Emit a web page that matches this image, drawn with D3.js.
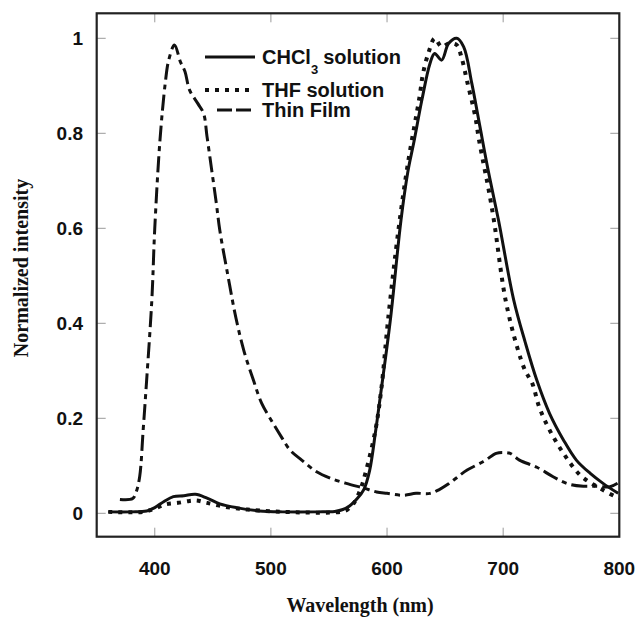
<!DOCTYPE html>
<html>
<head>
<meta charset="utf-8">
<script src="https://cdn.jsdelivr.net/npm/d3@7"></script>
<style>
  body { margin: 0; background: #fff; }
  .tick-lbl { font-family: "Liberation Sans", Arial, sans-serif; font-weight: bold; font-size: 19px; fill: #111; }
  .ttl { font-family: "Liberation Serif", "Times New Roman", serif; font-weight: bold; font-size: 20px; fill: #111; }
  .leg { font-family: "Liberation Sans", Arial, sans-serif; font-weight: bold; font-size: 20px; fill: #111; }
</style>
</head>
<body>
<script>
// values
var chclWl  = [360, 380, 393, 400, 408, 416, 425, 435, 445, 456, 470, 490, 510, 540, 555, 562, 568, 574, 580, 585, 590, 595, 603, 612, 618, 623, 630, 637, 641, 647, 653, 660, 666, 673, 680, 687, 696, 709, 719, 729, 740, 752, 763, 775, 786, 799];
var chclInt = [0.003, 0.003, 0.005, 0.012, 0.025, 0.035, 0.037, 0.04, 0.032, 0.02, 0.012, 0.005, 0.003, 0.003, 0.004, 0.008, 0.016, 0.03, 0.05, 0.09, 0.17, 0.26, 0.41, 0.617, 0.72, 0.78, 0.87, 0.947, 0.968, 0.954, 0.989, 1.0, 0.982, 0.905, 0.814, 0.723, 0.617, 0.45, 0.36, 0.28, 0.21, 0.154, 0.112, 0.084, 0.063, 0.042];

var thfWl  = [360, 390, 398, 405, 410, 420, 430, 436, 445, 460, 475, 490, 510, 560, 566, 571, 577, 582, 590, 595, 601, 610, 618, 628, 631, 636, 641, 647, 653, 660, 664, 669, 676, 679, 683, 687, 692, 702, 712, 719, 725, 731, 740, 752, 766, 778, 786, 796, 800];
var thfInt = [0.003, 0.003, 0.008, 0.015, 0.019, 0.022, 0.026, 0.027, 0.022, 0.014, 0.009, 0.006, 0.003, 0.003, 0.008, 0.02, 0.05, 0.09, 0.175, 0.26, 0.41, 0.6, 0.737, 0.877, 0.926, 0.972, 1.0, 0.982, 0.989, 0.986, 0.961, 0.909, 0.835, 0.789, 0.737, 0.688, 0.617, 0.45, 0.35, 0.3, 0.274, 0.224, 0.175, 0.126, 0.081, 0.06, 0.049, 0.036, 0.032];

var filmWl  = [370, 381, 384, 387, 390, 393, 397.5, 400, 404.5, 409, 412, 417, 422, 426, 430, 437, 442, 445, 449, 453, 456, 463, 470, 477, 485, 492, 502, 509, 516.5, 526.5, 539, 551, 565, 580, 591, 600, 614, 625, 637, 645, 653, 660, 669, 683, 694, 700, 706, 714, 729, 743, 756, 769, 780, 792, 799];
var filmInt = [0.029, 0.031, 0.045, 0.077, 0.175, 0.28, 0.45, 0.6, 0.786, 0.905, 0.954, 0.986, 0.951, 0.93, 0.891, 0.863, 0.842, 0.793, 0.723, 0.653, 0.596, 0.5, 0.41, 0.34, 0.28, 0.232, 0.189, 0.161, 0.133, 0.112, 0.088, 0.074, 0.063, 0.053, 0.045, 0.042, 0.038, 0.042, 0.042, 0.05, 0.062, 0.075, 0.091, 0.109, 0.126, 0.128, 0.126, 0.112, 0.097, 0.077, 0.062, 0.057, 0.057, 0.056, 0.064];

var xTicks = [400, 500, 600, 700, 800];
var yTicks = [0, 0.2, 0.4, 0.6, 0.8, 1];
var yTickLabels = ["0", "0.2", "0.4", "0.6", "0.8", "1"];

var w = 638, h = 617;
var frame = { left: 96.7, right: 619.3, top: 13.3, bottom: 536.7 };

var svg = d3.select("body").append("svg")
    .attr("width", w)
    .attr("height", h)

var x = d3.scaleLinear().domain([350, 800]).range([frame.left, frame.right])
var y = d3.scaleLinear().domain([0, 1]).range([513.3, 38.3])

svg.append("defs").append("clipPath").attr("id", "clip")
  .append("rect").attr("x", frame.left).attr("y", frame.top)
  .attr("width", frame.right - frame.left).attr("height", frame.bottom - frame.top)

// inner ticks, all four sides
var tk = svg.append("g").attr("stroke", "#9a9a9a").attr("stroke-width", 1)
xTicks.forEach(function(t) {
  if (t >= 800) return;
  tk.append("line").attr("x1", x(t)).attr("x2", x(t)).attr("y1", frame.bottom).attr("y2", frame.bottom - 9)
  tk.append("line").attr("x1", x(t)).attr("x2", x(t)).attr("y1", frame.top).attr("y2", frame.top + 9)
})
yTicks.forEach(function(t) {
  tk.append("line").attr("x1", frame.left).attr("x2", frame.left + 9).attr("y1", y(t)).attr("y2", y(t))
  tk.append("line").attr("x1", frame.right).attr("x2", frame.right - 9).attr("y1", y(t)).attr("y2", y(t))
})

// tick labels
svg.selectAll(".xl").data(xTicks).enter().append("text")
  .attr("class", "tick-lbl").attr("text-anchor", "middle")
  .attr("x", function(d) { return x(d); }).attr("y", 575)
  .text(function(d) { return d; })

svg.selectAll(".yl").data(yTicks).enter().append("text")
  .attr("class", "tick-lbl").attr("text-anchor", "end")
  .attr("x", 83).attr("y", function(d) { return y(d) + 7; })
  .text(function(d, i) { return yTickLabels[i]; })

// curves
var line = d3.line()
  .x(function(d) { return x(d[0]); })
  .y(function(d) { return y(d[1]); })
  .curve(d3.curveCatmullRom)

var plot = svg.append("g").attr("clip-path", "url(#clip)")

function zip(a, b) { return a.map(function(v, i) { return [v, b[i]]; }); }

plot.append("path").datum(zip(filmWl, filmInt)).attr("d", line)
  .attr("fill", "none").attr("stroke", "#111").attr("stroke-width", 3)
  .attr("stroke-dasharray", "16,5,5,5")

plot.append("path").datum(zip(thfWl, thfInt)).attr("d", line)
  .attr("fill", "none").attr("stroke", "#111").attr("stroke-width", 4)
  .attr("stroke-dasharray", "4,6")

plot.append("path").datum(zip(chclWl, chclInt)).attr("d", line)
  .attr("fill", "none").attr("stroke", "#111").attr("stroke-width", 3)

// frame
svg.append("rect").attr("x", frame.left).attr("y", frame.top)
  .attr("width", frame.right - frame.left).attr("height", frame.bottom - frame.top)
  .attr("fill", "none").attr("stroke", "#222").attr("stroke-width", 2.2)

// legend
var leg = svg.append("g")
leg.append("line").attr("x1", 205).attr("x2", 255).attr("y1", 57).attr("y2", 57)
  .attr("stroke", "#111").attr("stroke-width", 3)
leg.append("line").attr("x1", 205).attr("x2", 255).attr("y1", 90).attr("y2", 90)
  .attr("stroke", "#111").attr("stroke-width", 4).attr("stroke-dasharray", "4,6")
leg.append("line").attr("x1", 217).attr("x2", 255).attr("y1", 110).attr("y2", 110)
  .attr("stroke", "#111").attr("stroke-width", 3).attr("stroke-dasharray", "15,4")

var t1 = leg.append("text").attr("class", "leg").attr("x", 262).attr("y", 64)
t1.append("tspan").text("CHCl")
t1.append("tspan").attr("font-size", 13).attr("dy", 10).text("3")
t1.append("tspan").attr("dy", -10).attr("dx", 5).text("solution")
leg.append("text").attr("class", "leg").attr("x", 262).attr("y", 97).text("THF solution")
leg.append("text").attr("class", "leg").attr("x", 262).attr("y", 117).text("Thin Film")

// axis titles
svg.append("text").attr("class", "ttl").attr("text-anchor", "middle")
  .attr("x", 360).attr("y", 612).text("Wavelength (nm)")

svg.append("text").attr("class", "ttl").attr("text-anchor", "middle")
  .attr("transform", "translate(28,268) rotate(-90)").text("Normalized intensity")
</script>
</body>
</html>
